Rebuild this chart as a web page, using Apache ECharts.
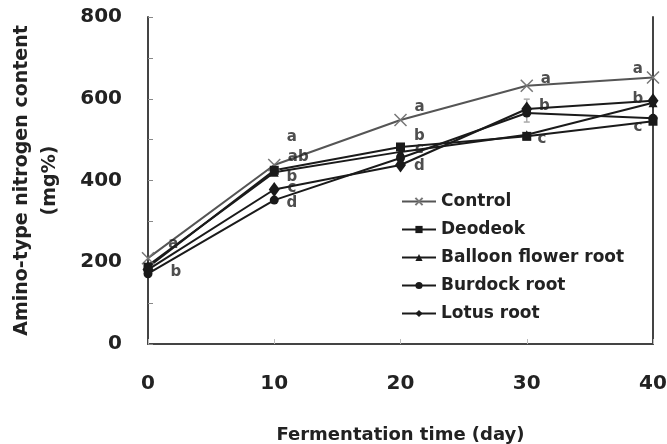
<!DOCTYPE html>
<html>
<head>
<meta charset="utf-8">
<script src="https://cdn.jsdelivr.net/npm/echarts@6/dist/echarts.min.js"></script>
<style>
  html, body { margin: 0; padding: 0; background: #fff; }
  #main { width: 667px; height: 444px; }
</style>
</head>
<body>
<div id="main"></div>
<script>
// fermentation days
var days = [0, 10, 20, 30, 40];
// amino-type nitrogen content (mg%)
var control = [210, 438, 548, 632, 652];
var deodeok = [188, 425, 482, 508, 545];
var balloonFlower = [192, 420, 470, 512, 590];
var burdock = [172, 352, 455, 565, 552];
var lotus = [182, 378, 438, 575, 595];
// error bar visible at day 30 : [day, low, high]
var errorBars = [[30, 543, 599]];
// significance letters : [day, value, letter]
var sigLetters = [
    [2.0, 244, 'a'], [2.2, 176, 'b'],
    [11.4, 506, 'a'], [11.9, 457, 'ab'], [11.4, 408, 'b'], [11.4, 381, 'c'], [11.4, 345, 'd'],
    [21.5, 580, 'a'], [21.5, 509, 'b'], [21.5, 477, 'c'], [21.5, 435, 'd'],
    [31.5, 648, 'a'], [31.4, 582, 'b'], [31.2, 501, 'c'],
    [38.8, 672, 'a'], [38.8, 599, 'b'], [38.8, 531, 'c']
];
var yTicks = [0, 200, 400, 600, 800];

var FONT = 'DejaVu Sans';

function pairs(arr) {
    return days.map(function (d, i) { return [d, arr[i]]; });
}

function lineSeries(name, arr, symbol, size, color) {
    return {
        name: name, type: 'line', data: pairs(arr),
        symbol: symbol, symbolSize: size,
        lineStyle: { color: color, width: 2 },
        itemStyle: { color: color },
        z: 3
    };
}

var myChart = echarts.init(document.getElementById('main'));

var crossSeries = lineSeries('Control', control, 'path://M0,0L10,10M10,0L0,10', 12, '#555');
crossSeries.itemStyle = { color: 'none', borderColor: '#777', borderWidth: 1.5 };

var option = {
    animation: false,
    backgroundColor: '#fff',
    textStyle: { fontFamily: FONT },
    grid: { left: 148, right: 14, top: 17, bottom: 100, outerBoundsMode: 'none' },
    legend: {
        orient: 'vertical', left: 396, top: 187,
        itemWidth: 34, itemHeight: 9, itemGap: 9,
        data: ['Control', 'Deodeok', 'Balloon flower root', 'Burdock root', 'Lotus root'],
        textStyle: { fontFamily: FONT, fontWeight: 'bold', fontSize: 17, color: '#222', lineHeight: 19 }
    },
    xAxis: {
        type: 'value', min: 0, max: 40, interval: 10,
        name: 'Fermentation time (day)', nameLocation: 'middle', nameGap: 82,
        nameTextStyle: { fontFamily: FONT, fontWeight: 'bold', fontSize: 18, color: '#222' },
        axisLine: { lineStyle: { color: '#444', width: 2 } },
        axisTick: { inside: true, length: 5, lineStyle: { color: '#bbb' } },
        axisLabel: { margin: 30, fontFamily: FONT, fontWeight: 'bold', fontSize: 20, color: '#222' },
        splitLine: { show: false }
    },
    yAxis: [{
        type: 'value', min: 0, max: 800, interval: 100,
        name: 'Amino-type nitrogen content\n(mg%)', nameLocation: 'middle', nameGap: 84, nameRotate: 90,
        nameTextStyle: { fontFamily: FONT, fontWeight: 'bold', fontSize: 19, color: '#222', lineHeight: 28 },
        axisLine: { show: true, lineStyle: { color: '#444', width: 2 } },
        axisTick: { show: true, inside: true, length: 5, lineStyle: { color: '#888' } },
        axisLabel: {
            margin: 26, fontFamily: FONT, fontWeight: 'bold', fontSize: 20, color: '#222',
            formatter: function (v) { return yTicks.indexOf(v) >= 0 ? v : ''; }
        },
        splitLine: { show: false }
    }, {
        type: 'value', min: 0, max: 800, position: 'right',
        axisLine: { show: true, lineStyle: { color: '#444', width: 2 } },
        axisTick: { show: false }, axisLabel: { show: false }, splitLine: { show: false }
    }],
    series: [
        crossSeries,
        lineSeries('Deodeok', deodeok, 'rect', 9, '#1a1a1a'),
        lineSeries('Balloon flower root', balloonFlower, 'triangle', 9, '#1a1a1a'),
        lineSeries('Burdock root', burdock, 'circle', 9, '#1a1a1a'),
        lineSeries('Lotus root', lotus, 'diamond', [11, 15], '#1a1a1a'),
        {
            type: 'custom', z: 2,
            data: errorBars,
            renderItem: function (params, api) {
                var top = api.coord([api.value(0), api.value(2)]);
                var bot = api.coord([api.value(0), api.value(1)]);
                var st = { stroke: '#aaa', lineWidth: 1.5 };
                return { type: 'group', children: [
                    { type: 'line', shape: { x1: top[0], y1: top[1], x2: bot[0], y2: bot[1] }, style: st },
                    { type: 'line', shape: { x1: top[0] - 3, y1: top[1], x2: top[0] + 3, y2: top[1] }, style: st },
                    { type: 'line', shape: { x1: bot[0] - 3, y1: bot[1], x2: bot[0] + 3, y2: bot[1] }, style: st }
                ] };
            }
        },
        {
            type: 'scatter', data: sigLetters, symbolSize: 0, z: 5,
            label: {
                show: true, position: 'inside',
                formatter: function (p) { return p.value[2]; },
                fontFamily: FONT, fontWeight: 'bold', fontSize: 15, color: '#222'
            }
        }
    ]
};
myChart.setOption(option);
</script>
</body>
</html>
